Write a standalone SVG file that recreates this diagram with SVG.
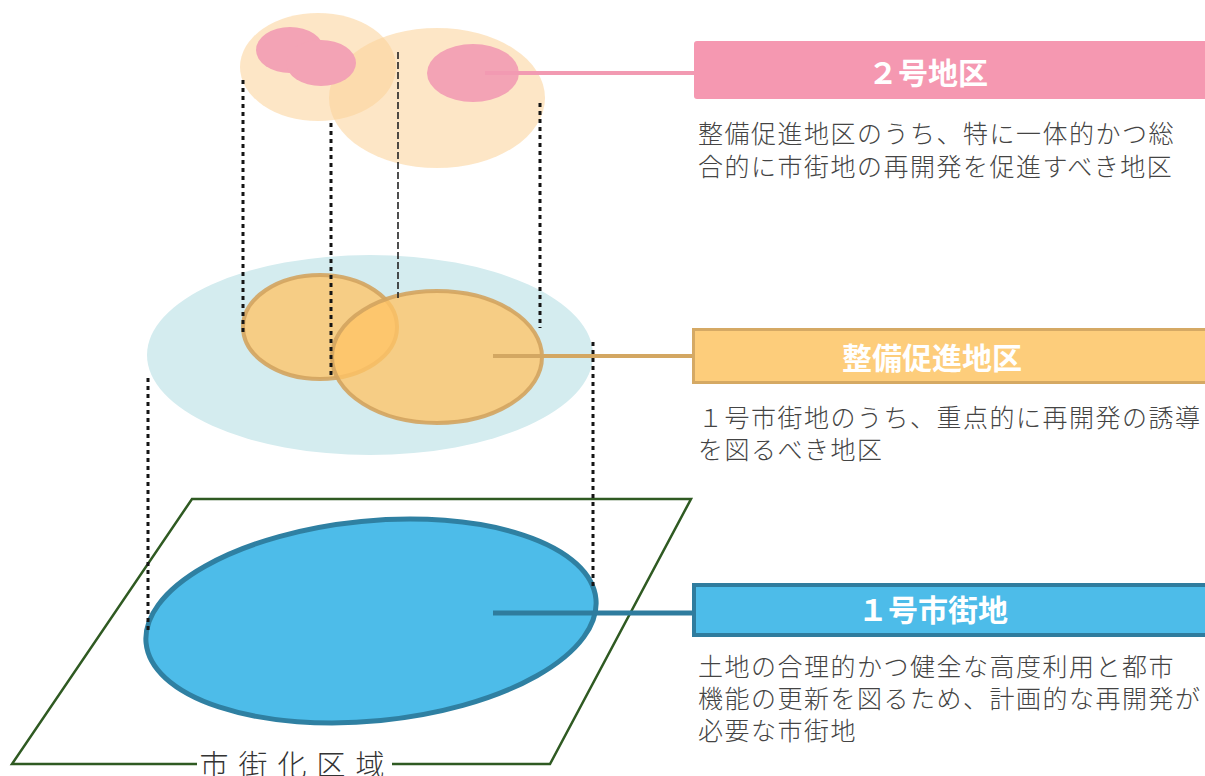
<svg xmlns="http://www.w3.org/2000/svg" width="1205" height="776" viewBox="0 0 1205 776">
<style>
.dot{stroke:#151515;stroke-width:3;stroke-dasharray:4 4;fill:none}
.dot2{stroke:#222;stroke-width:1.6;stroke-dasharray:7 3;fill:none}
.head{font-family:"Noto Sans CJK JP","Noto Sans CJK SC",sans-serif;font-weight:700;font-size:30px;fill:#fff;text-anchor:middle}
.desc{font-family:"Noto Sans CJK JP","Noto Sans CJK SC",sans-serif;font-weight:300;font-size:25px;letter-spacing:1.5px;fill:#444}
.peach{fill:#fbd299;fill-opacity:0.56}
.pink{fill:#f3a3b5}
.orange{fill:#ffc466;fill-opacity:0.78;stroke:#d3a45f;stroke-opacity:0.9;stroke-width:4}
</style>
<rect width="1205" height="776" fill="#fff"/>

<g id="shigaika-kuiki">
<polyline points="197,764 12,764 192,499 691,499 550,764 392,764" fill="none" stroke="#2f5a22" stroke-width="2.5" stroke-linejoin="miter"/>
<text x="297" y="776" font-family="Noto Sans CJK JP, sans-serif" font-weight="300" font-size="29" fill="#333" text-anchor="middle" letter-spacing="10">市街化区域</text>
</g>

<g id="ichigo-shigaichi-shape">
<ellipse cx="371" cy="621" rx="226" ry="100" transform="rotate(-5.6 371 621)" fill="#4dbce9" stroke="#2f80a2" stroke-width="5"/>
</g>

<g id="seibi-sokushin-shape">
<ellipse cx="370" cy="355" rx="223" ry="100" fill="#d4ecef"/>
<ellipse class="orange" cx="320" cy="327" rx="77" ry="52"/>
<ellipse class="orange" cx="437" cy="357" rx="105" ry="66"/>
</g>

<g id="nigo-chiku-shape">
<ellipse class="peach" cx="318" cy="67" rx="78" ry="54"/>
<ellipse class="peach" cx="437" cy="98" rx="108" ry="70"/>
<ellipse class="pink" cx="290" cy="50" rx="34" ry="23"/>
<ellipse class="pink" cx="321" cy="63" rx="35" ry="23"/>
<ellipse class="pink" cx="473" cy="73" rx="46" ry="29"/>
</g>

<g id="connectors">
<line class="dot" x1="243" y1="80" x2="243" y2="333"/>
<line class="dot" x1="331" y1="123" x2="331" y2="377"/>
<line class="dot2" x1="398" y1="52" x2="398" y2="298"/>
<line class="dot" x1="540" y1="103" x2="540" y2="328"/>
<line class="dot" x1="148" y1="378" x2="148" y2="632"/>
<line class="dot" x1="593" y1="342" x2="593" y2="587"/>
<line x1="485" y1="73" x2="696" y2="73" stroke="#f29ab2" stroke-width="4"/>
<line x1="493" y1="356" x2="694" y2="356" stroke="#d3a762" stroke-width="4"/>
<line x1="493" y1="613" x2="694" y2="613" stroke="#2f7c9e" stroke-width="5"/>
</g>

<g id="nigo-chiku-label">
<rect x="694" y="41" width="520" height="58" rx="3" fill="#f598b1"/>
<text class="head" x="928" y="84">２号地区</text>
<text class="desc" x="698" y="143">整備促進地区のうち、特に一体的かつ総</text>
<text class="desc" x="698" y="176">合的に市街地の再開発を促進すべき地区</text>
</g>

<g id="seibi-sokushin-label">
<rect x="693.5" y="329.5" width="520" height="53" fill="#fdcd7b" stroke="#d5a964" stroke-width="3"/>
<text class="head" x="932" y="369">整備促進地区</text>
<text class="desc" x="698" y="427">１号市街地のうち、重点的に再開発の誘導</text>
<text class="desc" x="698" y="459">を図るべき地区</text>
</g>

<g id="ichigo-shigaichi-label">
<rect x="694" y="585" width="520" height="50" fill="#4dbce9" stroke="#2f7c9e" stroke-width="4"/>
<text class="head" x="933" y="621">１号市街地</text>
<text class="desc" x="698" y="676">土地の合理的かつ健全な高度利用と都市</text>
<text class="desc" x="698" y="708">機能の更新を図るため、計画的な再開発が</text>
<text class="desc" x="698" y="740">必要な市街地</text>
</g>
</svg>
